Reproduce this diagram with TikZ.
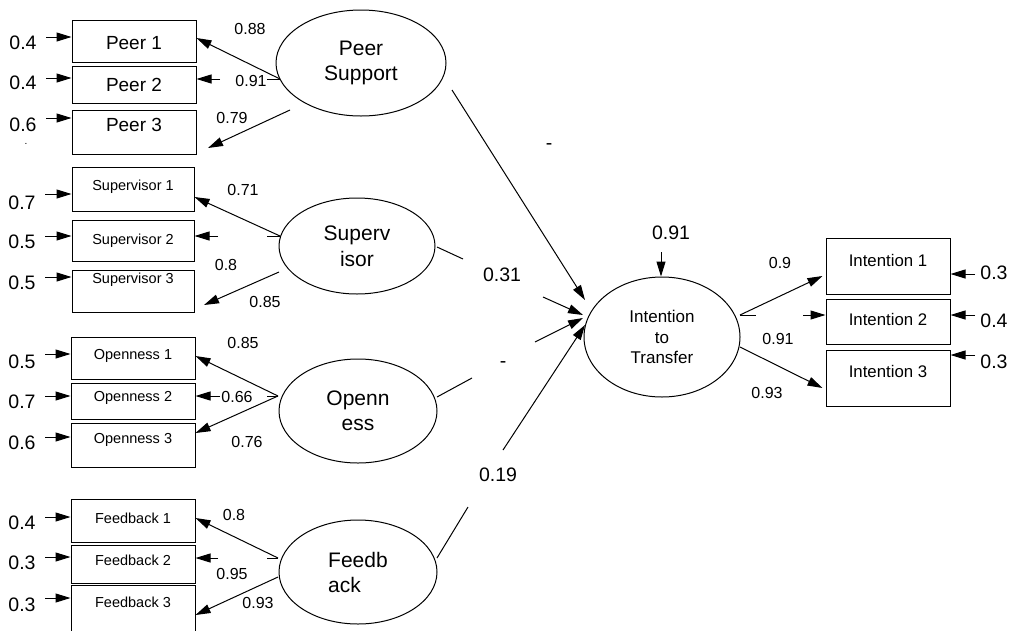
\documentclass[tikz,border=0pt]{standalone}
\usepackage{fontspec}
\setmainfont{Liberation Sans}
\usetikzlibrary{arrows.meta,shapes.geometric,calc}
\begin{document}
\begin{tikzpicture}[x=1pt,y=-1pt, line width=1pt,
 arr/.style={-{Triangle[length=15pt,width=9pt]}},
 box/.style={draw, rectangle, inner sep=0pt},
 big/.style={font=\fontsize{19.5}{22}\selectfont, inner sep=0pt},
 lod/.style={font=\fontsize{16}{19}\selectfont, inner sep=0pt},
 latent/.style={draw, ellipse, inner sep=0pt, align=center, font=\fontsize{21}{25}\selectfont},
 ittstyle/.style={draw, ellipse, inner sep=0pt, align=center, font=\fontsize{17}{20.5}\selectfont},
 pfont/.style={font=\fontsize{19}{22}\selectfont},
 sfont/.style={font=\fontsize{14.5}{17}\selectfont},
 ifont/.style={font=\fontsize{16.8}{19}\selectfont},
 ]
\useasboundingbox (0,0) rectangle (1012,630);
\clip (0,0) rectangle (1012,630);

% ---------- indicator boxes ----------
\node[box, minimum width=124pt, minimum height=42pt, label={[pfont, yshift=-2pt]center:Peer 1}] (p1) at (134,41) {};
\node[box, minimum width=124pt, minimum height=37pt, label={[pfont]center:Peer 2}] (p2) at (134,84.5) {};
\node[box, minimum width=124pt, minimum height=44pt, label={[pfont, yshift=7pt]center:Peer 3}] (p3) at (134,132) {};

\node[box, minimum width=122pt, minimum height=44pt, label={[sfont, yshift=2pt]center:Supervisor 1}] (s1) at (133,189) {};
\node[box, minimum width=122pt, minimum height=41pt, label={[sfont]center:Supervisor 2}] (s2) at (133,240.5) {};
\node[box, minimum width=122pt, minimum height=42pt, label={[sfont, yshift=11pt]center:Supervisor 3}] (s3) at (133,291) {};

\node[box, minimum width=124pt, minimum height=42pt, label={[sfont, yshift=2pt]center:Openness 1}] (o1) at (133,358) {};
\node[box, minimum width=124pt, minimum height=36pt, label={[sfont, yshift=3pt]center:Openness 2}] (o2) at (133,401) {};
\node[box, minimum width=124pt, minimum height=44pt, label={[sfont, yshift=5pt]center:Openness 3}] (o3) at (133,445) {};

\node[box, minimum width=124pt, minimum height=43pt, label={[sfont, yshift=2.5pt]center:Feedback 1}] (f1) at (133,520.5) {};
\node[box, minimum width=124pt, minimum height=38pt, label={[sfont, yshift=4pt]center:Feedback 2}] (f2) at (133,564) {};
\node[box, minimum width=124pt, minimum height=60pt, label={[sfont, yshift=13pt]center:Feedback 3}] (f3) at (133,615) {};

\node[box, minimum width=124pt, minimum height=56pt, label={[ifont, yshift=6pt]center:Intention 1}] (i1) at (888,266) {};
\node[box, minimum width=124pt, minimum height=45pt, label={[ifont, yshift=2.5pt]center:Intention 2}] (i2) at (888,321.5) {};
\node[box, minimum width=124pt, minimum height=56pt, label={[ifont, yshift=7pt]center:Intention 3}] (i3) at (888,378) {};

% ---------- latent variables ----------
\node[latent, minimum width=170pt, minimum height=106pt] (ps) at (361,63) {Peer\\Support};
\node[latent, minimum width=156pt, minimum height=96pt, font=\fontsize{21}{26}\selectfont] (su) at (357,246) {Superv\\isor};
\node[latent, minimum width=158pt, minimum height=104pt] (op) at (358,411) {Openn\\ess};
\node[latent, minimum width=158pt, minimum height=104pt, align=left] (fb) at (358,572) {Feedb\\ack};
\node[ittstyle, minimum width=156pt, minimum height=120pt] (itt) at (662,337) {Intention\\to\\Transfer};

% ---------- error terms (left) ----------
\node[big] (ep1) at (23,43) {0.4};  \coordinate (ap1) at (46,37);  \draw[arr] (ap1) -- (ap1 -| p1.west);
\node[big] (ep2) at (23,83) {0.4};  \coordinate (ap2) at (46,78);  \draw[arr] (ap2) -- (ap2 -| p2.west);
\node[big] (ep3) at (23,125) {0.6}; \coordinate (ap3) at (46,118); \draw[arr] (ap3) -- (ap3 -| p3.west);
\node[inner sep=0pt, font=\fontsize{10}{10}\selectfont] (dot) at (26,144) {.};

\node[big] (es1) at (22,203) {0.7}; \coordinate (as1) at (45,194); \draw[arr] (as1) -- (as1 -| s1.west);
\node[big] (es2) at (22,242) {0.5}; \coordinate (as2) at (45,236); \draw[arr] (as2) -- (as2 -| s2.west);
\node[big] (es3) at (22,283) {0.5}; \coordinate (as3) at (45,277); \draw[arr] (as3) -- (as3 -| s3.west);

\node[big] (eo1) at (22,362) {0.5}; \coordinate (ao1) at (45,354); \draw[arr] (ao1) -- (ao1 -| o1.west);
\node[big] (eo2) at (22,402) {0.7}; \coordinate (ao2) at (45,396); \draw[arr] (ao2) -- (ao2 -| o2.west);
\node[big] (eo3) at (22,443) {0.6}; \coordinate (ao3) at (45,437); \draw[arr] (ao3) -- (ao3 -| o3.west);

\node[big] (ef1) at (22,523) {0.4}; \coordinate (af1) at (45,517); \draw[arr] (af1) -- (af1 -| f1.west);
\node[big] (ef2) at (22,563) {0.3}; \coordinate (af2) at (45,557); \draw[arr] (af2) -- (af2 -| f2.west);
\node[big] (ef3) at (22,605) {0.3}; \coordinate (af3) at (45,598); \draw[arr] (af3) -- (af3 -| f3.west);

% ---------- error terms (right) ----------
\node[big] (ei1) at (994,273) {0.3}; \coordinate (ai1) at (975,274); \draw[arr] (ai1) -- (ai1 -| i1.east);
\node[big] (ei2) at (994,321) {0.4}; \coordinate (ai2) at (975,315); \draw[arr] (ai2) -- (ai2 -| i2.east);
\node[big] (ei3) at (994,362) {0.3}; \coordinate (ai3) at (975,355); \draw[arr] (ai3) -- (ai3 -| i3.east);

\node[big] (eitt) at (671,233) {0.91}; \coordinate (aitt) at (661,252); \draw[arr] (aitt) -- (aitt |- itt.north);

% ---------- loadings: Peer Support ----------
\coordinate (psA) at (280,79); \coordinate (psB) at (267,79); \coordinate (psC) at (220,79);
\coordinate (psD) at (290,110); \coordinate (psE) at (208,148);
\draw[arr] (psA) -- ([yshift=3pt]p1.east);
\draw (psA) -- (psB);
\draw[arr] (psC) -- ([yshift=5.5pt]p2.east);
\draw[arr] (psD) -- (psE);
\node[lod] (l88) at (250,29) {0.88};
\node[lod] (l91a) at (251,81) {0.91};
\node[lod] (l79) at (232,118) {0.79};

% ---------- loadings: Supervisor ----------
\coordinate (suA) at (280,236); \coordinate (suB) at (267,236); \coordinate (suC) at (218,236);
\coordinate (suD) at (279,272); \coordinate (suE) at (204,305);
\draw[arr] (suA) -- ([yshift=-8pt]s1.east);
\draw (suA) -- (suB);
\draw[arr] (suC) -- ([yshift=4.5pt]s2.east);
\draw[arr] (suD) -- (suE);
\node[lod] (l71) at (243,190) {0.71};
\node[lod] (l8a) at (226,265) {0.8};
\node[lod] (l85a) at (265,302) {0.85};

% ---------- loadings: Openness ----------
\coordinate (opA) at (278,396); \coordinate (opB) at (267,396); \coordinate (opC) at (220,396);
\draw[arr] (opA) -- ([yshift=2pt]o1.east);
\draw (opA) -- (opB);
\draw[arr] (opC) -- ([yshift=5pt]o2.east);
\draw[arr] (opA) -- ([yshift=12pt]o3.east);
\node[lod] (l85b) at (243,343) {0.85};
\node[lod] (l66) at (237,397) {0.66};
\node[lod] (l76) at (247,442) {0.76};

% ---------- loadings: Feedback ----------
\coordinate (fbA) at (278,558); \coordinate (fbB) at (267,558); \coordinate (fbC) at (218,558);
\coordinate (fbD) at (278,577);
\draw[arr] (fbA) -- ([yshift=2.5pt]f1.east);
\draw (fbA) -- (fbB);
\draw[arr] (fbC) -- ([yshift=6pt]f2.east);
\draw[arr] (fbD) -- (f3.east);
\node[lod] (l8b) at (234,515) {0.8};
\node[lod] (l95) at (232,574) {0.95};
\node[lod] (l93a) at (258,603) {0.93};

% ---------- loadings: Intention to Transfer ----------
\coordinate (itA) at (740,315); \coordinate (itB) at (756,315); \coordinate (itC) at (803,315);
\coordinate (itD) at (740,347);
\draw[arr] (itA) -- ([xshift=-3pt,yshift=-10pt]i1.west);
\draw (itA) -- (itB);
\draw[arr] (itC) -- ([yshift=6.5pt]i2.west);
\draw[arr] (itD) -- ([xshift=-3pt,yshift=-10pt]i3.west);
\node[lod] (l9) at (780,263) {0.9};
\node[lod] (l91b) at (778,339) {0.91};
\node[lod] (l93b) at (767,393) {0.93};

% ---------- structural paths ----------
\coordinate (psS) at (452,90); \coordinate (ittP) at (585,300);
\draw[arr] (psS) -- (ittP);
\node[big] (gps) at (549,147) {-};

\coordinate (suS) at (437,247); \coordinate (suT) at (463,259);
\coordinate (suU) at (543,297); \coordinate (ittS) at (583,315);
\draw (suS) -- (suT);
\draw[arr] (suU) -- (ittS);
\node[big] (gsu) at (502,275) {0.31};

\coordinate (opS) at (437,397); \coordinate (opT) at (472,378);
\coordinate (opU) at (535,342); \coordinate (ittO) at (583,318);
\draw (opS) -- (opT);
\draw[arr] (opU) -- (ittO);
\node[big] (gop) at (503,365) {-};

\coordinate (fbS) at (437,558); \coordinate (fbT) at (468,507);
\coordinate (fbU) at (503,450); \coordinate (ittF) at (585,325);
\draw (fbS) -- (fbT);
\draw[arr] (fbU) -- (ittF);
\node[big] (gfb) at (498,475) {0.19};
\end{tikzpicture}
\end{document}
